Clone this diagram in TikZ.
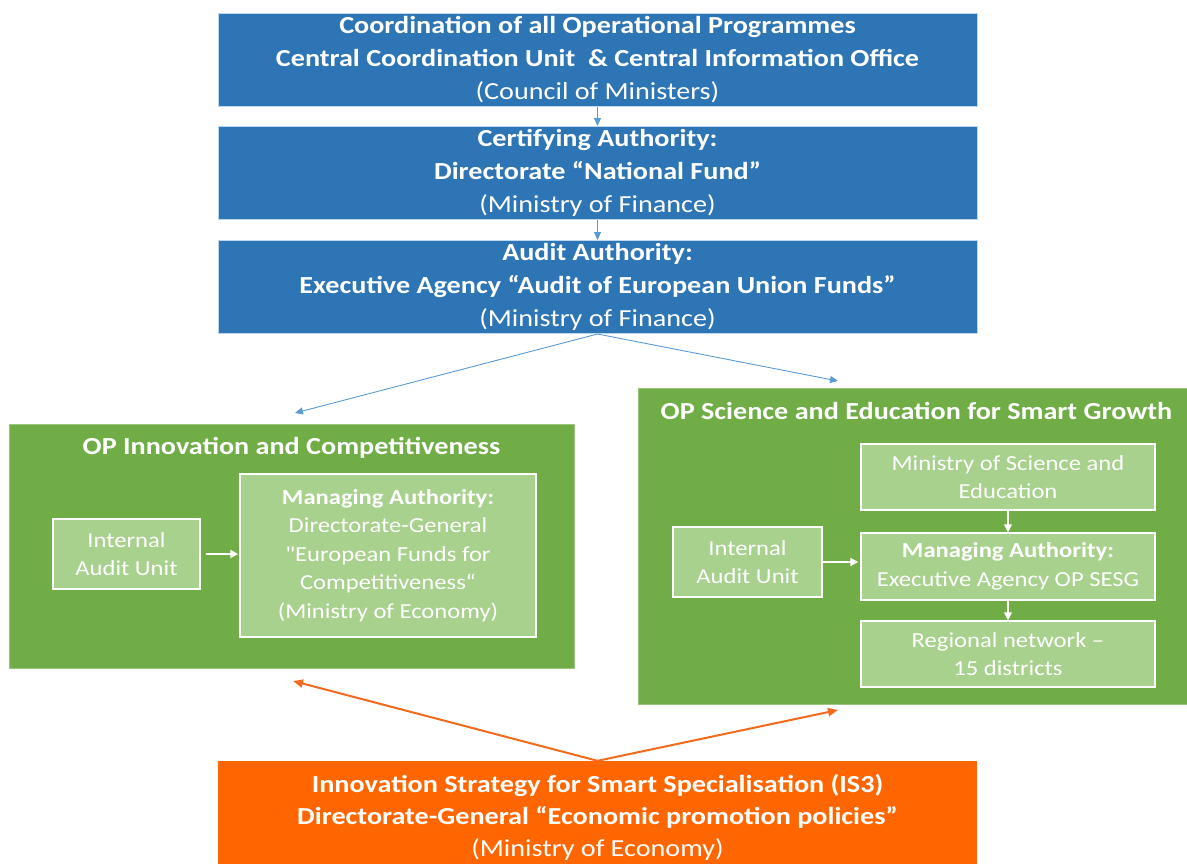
\documentclass[tikz,border=0pt]{standalone}
\usepackage{fontspec}
\setmainfont{Carlito}[FakeStretch=1.15]
\newfontfamily\plainq{Carlito}[FakeStretch=1.15]
\usetikzlibrary{arrows.meta}
\definecolor{bluefill}{HTML}{2E75B6}
\definecolor{blueline}{HTML}{5B9BD5}
\definecolor{greenfill}{HTML}{70AD47}
\definecolor{lightgreen}{HTML}{A9D18E}
\definecolor{orangefill}{HTML}{FF6600}
\definecolor{orangeline}{HTML}{F26B1D}
\begin{document}
\begin{tikzpicture}[x=1pt,y=-1pt,
  topbox/.style={draw=blueline!40!white, line width=1pt, fill=bluefill, text=white,
    minimum width=759pt, minimum height=93pt, align=center, inner sep=0pt,
    font=\fontsize{24.5}{33}\selectfont},
  orbox/.style={fill=orangefill, text=white, minimum width=759pt, minimum height=112pt,
    align=center, inner sep=0pt, font=\fontsize{24.5}{32}\selectfont},
  opbox/.style={draw=greenfill!70!white, line width=1pt, fill=greenfill, inner sep=0pt},
  optitle/.style={text=white, font=\bfseries\fontsize{24.5}{26}\selectfont, inner sep=0pt},
  inbox/.style={draw=white, line width=1.5pt, fill=lightgreen, text=white, align=center,
    inner sep=0pt, font=\fontsize{21.4}{28.5}\selectfont},
  blueconn/.style={draw=blueline, line width=0.9pt, -{Triangle[length=8pt,width=7pt]}},
  whiteconn/.style={draw=white, line width=2pt, -{Triangle[length=8pt,width=8pt]}},
  whitesmall/.style={draw=white, line width=1.2pt, -{Triangle[length=8pt,width=8pt]}},
  orconn/.style={draw=orangeline, line width=2pt, -{Triangle[length=10pt,width=8pt]}}
]
\useasboundingbox (0,0) rectangle (1187,863);
\clip (0,0) rectangle (1187,863);

% top blue boxes
\node[topbox] (b1) at (597.5,60) {\textbf{Coordination of all Operational Programmes}\\
  \textbf{Central Coordination Unit \ \& Central Information Office}\\(Council of Ministers)};
\node[topbox] (b2) at (597.5,173) {\textbf{Certifying Authority:}\\
  \textbf{Directorate “National Fund”}\\(Ministry of Finance)};
\node[topbox] (b3) at (597.5,287) {\textbf{Audit Authority:}\\
  \textbf{Executive Agency “Audit of European Union Funds”}\\(Ministry of Finance)};

\draw[blueconn] (b1.south) -- (b2.north);
\draw[blueconn] (b2.south) -- (b3.north);

% left OP box
\node[opbox, minimum width=565pt, minimum height=244pt] (opl) at (291.5,546) {};
\node[optitle] (opltitle) at (291.5,448) {OP Innovation and Competitiveness};
\node[inbox, minimum width=147pt, minimum height=70pt] (iaul) at (126.5,554) {Internal\\Audit Unit};
\node[inbox, minimum width=296pt, minimum height=163pt] (mal) at (388,555.5)
  {\textbf{Managing Authority:}\\Directorate-General\\{\plainq"}European Funds for\\Competitiveness“\\(Ministry of Economy)};
\draw[whiteconn] ([xshift=5pt]iaul.east) -- ([xshift=-1pt]mal.west |- iaul.east);

% right OP box
\node[opbox, minimum width=552pt, minimum height=316pt] (opr) at (914,546) {};
\node[optitle] (oprtitle) at (916.5,411) {OP Science and Education for Smart Growth};
\node[inbox, minimum width=294pt, minimum height=66pt] (mse) at (1008,477) {Ministry of Science and\\Education};
\node[inbox, minimum width=294pt, minimum height=67pt] (mar) at (1008,566.5) {\textbf{Managing Authority:}\\Executive Agency OP SESG};
\node[inbox, minimum width=294pt, minimum height=66pt] (reg) at (1008,654) {Regional network –\\15 districts};
\node[inbox, minimum width=149pt, minimum height=70pt] (iaur) at (747.5,562) {Internal\\Audit Unit};
\draw[whiteconn] (iaur.east) -- ([xshift=-2pt]mar.west |- iaur.east);
\draw[whitesmall] (mse.south) -- (mar.north);
\draw[whitesmall] (mar.south) -- (reg.north);

% blue connectors to OP boxes
\coordinate (tol) at (295,413);
\coordinate (tor) at (838,381);
\draw[blueconn] (b3.south) -- (tol);
\draw[blueconn] (b3.south) -- (tor);

% orange box
\node[orbox] (ob) at (597.5,817) {\textbf{Innovation Strategy for Smart Specialisation (IS3)}\\
  \textbf{Directorate-General “Economic promotion policies”}\\(Ministry of Economy)};
\coordinate (fromol) at (293,681);
\coordinate (fromor) at (838,710);
\draw[orconn] (ob.north) -- (fromol);
\draw[orconn] (ob.north) -- (fromor);
\end{tikzpicture}
\end{document}
